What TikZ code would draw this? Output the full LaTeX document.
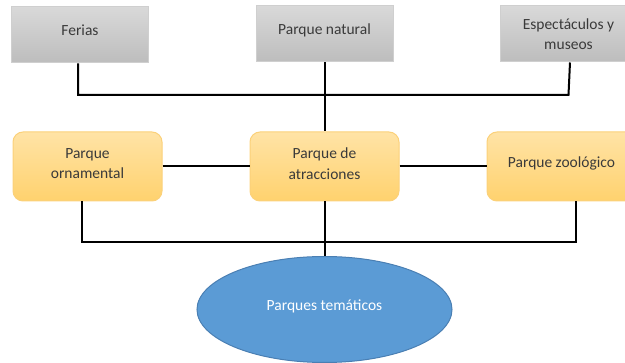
\documentclass[tikz,border=0pt]{standalone}
\usepackage{fontspec}
\setmainfont{Carlito}
\usetikzlibrary{shapes.geometric}
\definecolor{txt}{HTML}{3A3A3A}
\definecolor{grayT}{HTML}{D9D9D9}
\definecolor{grayB}{HTML}{BDBDBD}
\definecolor{grayE}{HTML}{CFCFCF}
\definecolor{orT}{HTML}{FFE3A6}
\definecolor{orB}{HTML}{FFD26E}
\definecolor{orE}{HTML}{FBD17A}
\definecolor{blueF}{HTML}{5B9BD5}
\definecolor{blueE}{HTML}{4A7FB3}
\tikzset{
  graybox/.style={draw=grayE, line width=1pt, top color=grayT, bottom color=grayB,
    minimum width=137pt, minimum height=56pt, align=center, text=txt, inner sep=2pt},
  orbox/.style={draw=orE, line width=1pt, top color=orT, bottom color=orB, rounded corners=10pt,
    minimum width=149pt, minimum height=69pt, align=center, text=txt, inner sep=2pt},
  oval/.style={ellipse, draw=blueE, line width=1pt, fill=blueF, minimum width=255pt,
    minimum height=106pt, text=white, inner sep=0pt},
  link/.style={draw=black, line width=2pt}
}
\begin{document}
\begin{tikzpicture}[x=1pt, y=-1pt, font=\fontsize{15.5}{20.5}\selectfont]
\useasboundingbox (0,0) rectangle (625,363);
\clip (0,0) rectangle (625,363);
\node[graybox, text depth=10pt] (fer) at (80,35) {Ferias};
\node[graybox, text depth=10pt] (nat) at (324.5,34) {Parque natural};
\node[graybox] (esp) at (568.5,34) {Espectáculos y\\museos};
\node[orbox, text depth=6pt] (orn) at (87.5,166.5) {Parque\\ornamental};
\node[orbox, text depth=6pt] (atr) at (324.5,166.5) {Parque de\\atracciones};
\node[orbox, text depth=8pt] (zoo) at (561.5,166.5) {Parque zoológico};
\node[oval] (ell) at (324.5,309.5) {\raisebox{8pt}{Parques temáticos}};
\coordinate (topbar) at (0,95);
\coordinate (botbar) at (0,242);
\draw[link] ([xshift=-2pt]fer.south) |- (topbar -| esp.south) -- ([xshift=1.5pt]esp.south);
\draw[link] (nat.south) -- (atr.north);
\draw[link] (orn.east) -- (atr.west);
\draw[link] (atr.east) -- (zoo.west);
\draw[link] ([xshift=-5.5pt]orn.south) -- ([xshift=-5.5pt]orn.south |- botbar) -- ([xshift=14.5pt]zoo.south |- botbar) -- ([xshift=14.5pt]zoo.south);
\draw[link] (atr.south) -- (ell.north);
\end{tikzpicture}
\end{document}
